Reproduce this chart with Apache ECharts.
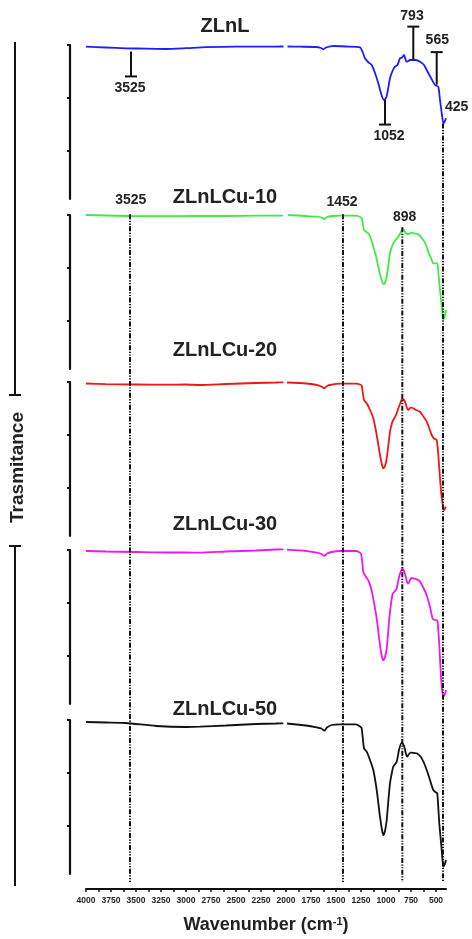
<!DOCTYPE html>
<html>
<head>
<meta charset="utf-8">
<script src="https://cdn.jsdelivr.net/npm/echarts@6/dist/echarts.min.js"></script>
<style>
html,body{margin:0;padding:0;background:#fff}
#main{width:472px;height:939px}
</style>
</head>
<body>
<div id="main"></div>
<script>
// 样品名称 与 颜色
var names = ['ZLnL', 'ZLnLCu-10', 'ZLnLCu-20', 'ZLnLCu-30', 'ZLnLCu-50']
var colors = ['#1e1eff', '#3ded3d', '#ee1616', '#f016f0', '#111111']

// 光谱数据: 波数 (cm-1) / 透过率 (每个面板 0~154, '-' 为断点)
var wnBlue = [4000,3800,3600,3400,3200,3000,2800,2500,2200,2025,2005,1985,1860,1700,1650,1627,1600,1527,1400,1260,1230,1210,1180,1143,1110,1077,1045,1020,1000,987,960,935,910,885,860,840,820,800,793,760,700,660,620,593,550,510,477,460,440,427,415,400]
var tBlue = [152.3,151.5,150.7,150.3,150,150.8,151.8,152.3,152.3,152.5,'-',152.5,152.3,152,151,149.7,151.5,153,152.5,151.7,146,140.7,137,134,126,115.7,104,99,101,105.7,120.7,128,132.3,134,140.7,141.5,144,138,137.3,139,139,137.3,134,129,121,114,112.3,99,84,75.7,77,80.7]

var wnGreen = [4000,3800,3560,3200,2927,2600,2300,2060,2030,2005,1980,1800,1693,1640,1617,1590,1543,1460,1327,1280,1243,1220,1177,1150,1127,1100,1077,1050,1027,1010,993,975,960,935,910,877,850,833,815,800,777,743,710,677,627,600,577,550,527,487,475,460,440,427,415,400]
var tGreen = [154,153.5,153,152.8,153,153,153.3,153.3,153.3,'-',154,153,152.3,151.5,150,152,153,153.3,153.3,153,150.7,139,135.7,130,122.3,113,102.3,91,85,86,92.3,105,115.7,124,128.3,132.3,137,140.7,138,135.5,135,136.3,135.5,134.7,129,124,117.3,111,105.7,105.7,95,79,60,49,52,59]

var wnRed = [4000,3800,3500,3200,3000,2860,2600,2300,2100,2025,2005,1990,1800,1693,1645,1617,1590,1560,1460,1300,1260,1243,1220,1193,1160,1127,1093,1060,1040,1027,1010,993,975,960,940,927,900,877,860,837,825,810,790,777,760,743,700,660,630,593,565,543,520,493,477,460,447,437,425,417,408,400]
var tRed = [152.5,151.8,151.5,151.3,151.5,151,152,153,153.5,153.7,'-',153.5,152.5,151,149.5,147.7,150,151,152.3,152.3,151.5,150.3,136,132.7,126,117.7,101,81,71,67.7,70,77.7,92,104.3,113,116,121,127.7,132,137,136.5,134.3,128,126,128,128.3,126,124.3,120,114.3,107,101,97.5,96,81,57.7,42,34.3,27,26,28,29.3]

var wnMag = [4000,3800,3500,3200,3000,2860,2600,2300,2100,2027,2005,1990,1800,1693,1645,1617,1590,1543,1460,1300,1250,1227,1200,1177,1150,1127,1093,1060,1040,1027,1010,993,967,950,933,910,893,870,850,837,825,810,790,777,760,743,720,693,670,653,620,593,560,533,510,487,467,453,440,430,420,410,400]
var tMag = [153,152.5,152,151.5,151.5,151.3,152.5,153.5,154.5,154.7,'-',154.3,153,151.3,150,148,150.5,152,153,153,150.3,132,127,123.7,116,105.3,85.3,58.7,47,43.7,47,55.3,85.3,100,110.3,113,115.3,127,133,135.3,134,130.3,122,120.3,124,126,125.5,124.7,123.5,121.3,115,108.7,97,85.3,84,83.7,58.7,32,15,9,8,10,14]

var wnBlack = [4000,3800,3600,3300,3000,2860,2600,2300,2100,2027,2005,1990,1800,1693,1645,1617,1590,1543,1460,1300,1260,1243,1220,1193,1160,1127,1093,1060,1040,1027,1010,993,975,960,940,927,893,870,843,830,817,800,787,770,753,720,693,653,620,593,560,527,500,487,467,443,435,427,415,400]
var tBlack = [152,151.5,151,148,147,147.3,148.5,150,150.5,150.7,'-',150.5,148.5,146.7,145.5,143.3,146.5,149,149.7,149.7,147.5,145.7,125.7,122.3,114,104,84,57.3,44,39,43,54,75,90.7,102,107.3,112.3,124,131.3,130,127.3,120,117.3,120,121.3,121,120.7,117.3,111,104,94,84,81.5,80.7,50.7,24,14,7.3,9,14]

// 横轴 刻度 与 标签
var xTicks = [4000,3875,3750,3625,3500,3375,3250,3125,3000,2875,2750,2625,2500,2375,2250,2125,2000,1875,1750,1625,1500,1375,1250,1125,1000,875,750,625,500]
var xLabels = [4000,3750,3500,3250,3000,2750,2500,2250,2000,1750,1500,1250,1000,750,500]
var yTicks = [48, 101, 154]

// 标注 (叠加层, 纵坐标自上而下)
var guideLines = [[3560, 215, 885], [1430, 215, 885], [837, 228, 885], [430, 124, 885]]
var peakBars = [[3550, 51.7, 76.7], [1010, 100, 125], [727, 60, 26.7], [493, 85, 52.3]]
var noteText = ['3525', '1052', '793', '565', '425', '3525', '1452', '898']
var notePos = [[3560, 88.7], [970, 136.7], [740, 16], [487, 40.7], [293, 107.3], [3553, 200.7], [1440, 203.3], [813, 218.3]]

var spectra = [[wnBlue, tBlue], [wnGreen, tGreen], [wnRed, tRed], [wnMag, tMag], [wnBlack, tBlack]]

var FONT = '"Liberation Sans", Arial, sans-serif'
var panelTop = [45, 215, 382, 550, 720]
var titleY = [26, 197.5, 350.5, 524.5, 709.5]

function zip(a, b) {
	var out = []
	for (var i = 0; i < a.length; i++) {
		out.push([a[i], b[i]])
	}
	return out
}

var grids = [], xAxes = [], yAxes = [], series = [], graphics = []
for (var i = 0; i < 5; i++) {
	grids.push({left: 86, right: 26, top: panelTop[i], height: 154})
	xAxes.push({gridIndex: i, type: 'value', min: 400, max: 4000, inverse: true, show: false})
	yAxes.push({
		gridIndex: i, type: 'value', min: 0, max: 154, offset: 16, position: 'left',
		axisLine: {show: true, lineStyle: {color: '#111', width: 2.2}},
		axisTick: {show: true, inside: false, length: 3, customValues: yTicks, lineStyle: {color: '#111', width: 2}},
		axisLabel: {show: false},
		splitLine: {show: false}
	})
	series.push({
		name: names[i], type: 'line', xAxisIndex: i, yAxisIndex: i,
		data: zip(spectra[i][0], spectra[i][1]),
		showSymbol: false, symbol: 'none', smooth: 0.2, clip: false, connectNulls: false,
		lineStyle: {color: colors[i], width: 1.8},
		z: 3
	})
	graphics.push({
		type: 'text', x: 225, y: titleY[i],
		style: {text: names[i], font: 'bold 20px ' + FONT, fill: '#222', align: 'center', verticalAlign: 'middle', textAlign: 'center', textVerticalAlign: 'middle'}
	})
}

// 叠加层: 底部横轴 + 标注
grids.push({left: 86, right: 26, top: 0, bottom: 47})
xAxes.push({
	gridIndex: 5, type: 'value', min: 400, max: 4000, inverse: true, position: 'bottom',
	axisLine: {show: true, onZero: false, lineStyle: {color: '#111', width: 2}},
	axisTick: {show: true, inside: false, length: 3, customValues: xTicks, lineStyle: {color: '#111', width: 1.5}},
	axisLabel: {
		customValues: xLabels, fontSize: 8.5, fontWeight: 'bold', color: '#222', margin: 7, fontFamily: FONT,
		formatter: function (v) { return String(v) }
	},
	splitLine: {show: false},
	name: 'Wavenumber (cm{sup|-1})', nameLocation: 'middle', nameGap: 27,
	nameTextStyle: {
		fontSize: 18, fontWeight: 'bold', color: '#222', fontFamily: FONT,
		rich: {sup: {fontSize: 11, fontWeight: 'bold', color: '#222', fontFamily: FONT, verticalAlign: 'top'}}
	}
})
yAxes.push({gridIndex: 5, type: 'value', min: 0, max: 892, inverse: true, show: false})

series.push({
	type: 'custom', xAxisIndex: 5, yAxisIndex: 5, data: guideLines, z: 5, silent: true,
	renderItem: function (params, api) {
		var p1 = api.coord([api.value(0), api.value(1)])
		var p2 = api.coord([api.value(0), api.value(2)])
		return {type: 'line', shape: {x1: p1[0], y1: p1[1], x2: p2[0], y2: p2[1]},
			style: {stroke: '#111', lineWidth: 2, lineDash: [5, 1.5, 1.2, 1.5, 1.2, 1.5]}}
	}
})
series.push({
	type: 'custom', xAxisIndex: 5, yAxisIndex: 5, data: peakBars, z: 5, silent: true,
	renderItem: function (params, api) {
		var p1 = api.coord([api.value(0), api.value(1)])
		var p2 = api.coord([api.value(0), api.value(2)])
		return {type: 'group', children: [
			{type: 'line', shape: {x1: p1[0], y1: p1[1], x2: p2[0], y2: p2[1]}, style: {stroke: '#111', lineWidth: 2}},
			{type: 'line', shape: {x1: p2[0] - 6, y1: p2[1], x2: p2[0] + 6, y2: p2[1]}, style: {stroke: '#111', lineWidth: 2}}
		]}
	}
})
series.push({
	type: 'custom', xAxisIndex: 5, yAxisIndex: 5, data: notePos, z: 6, silent: true,
	renderItem: function (params, api) {
		var p = api.coord([api.value(0), api.value(1)])
		return {type: 'text', x: p[0], y: p[1],
			style: {text: noteText[params.dataIndex], font: 'bold 14px ' + FONT, fill: '#222',
				align: 'center', verticalAlign: 'middle', textAlign: 'center', textVerticalAlign: 'middle'}}
	}
})

// 左侧 Trasmitance 括号
graphics.push(
	{type: 'line', shape: {x1: 15, y1: 42, x2: 15, y2: 395}, style: {stroke: '#111', lineWidth: 2}},
	{type: 'line', shape: {x1: 9, y1: 395, x2: 21, y2: 395}, style: {stroke: '#111', lineWidth: 2}},
	{type: 'line', shape: {x1: 15, y1: 546, x2: 15, y2: 886}, style: {stroke: '#111', lineWidth: 2}},
	{type: 'line', shape: {x1: 9, y1: 546, x2: 21, y2: 546}, style: {stroke: '#111', lineWidth: 2}},
	{type: 'text', x: 17.5, y: 467.5, rotation: Math.PI / 2,
		style: {text: 'Trasmitance', font: 'bold 19px ' + FONT, fill: '#222', align: 'center', verticalAlign: 'middle', textAlign: 'center', textVerticalAlign: 'middle'}}
)

var myChart = echarts.init(document.getElementById('main'), null, {renderer: 'canvas'})
myChart.setOption({
	animation: false,
	backgroundColor: '#fff',
	grid: grids,
	xAxis: xAxes,
	yAxis: yAxes,
	series: series,
	graphic: graphics
})
</script>
</body>
</html>
